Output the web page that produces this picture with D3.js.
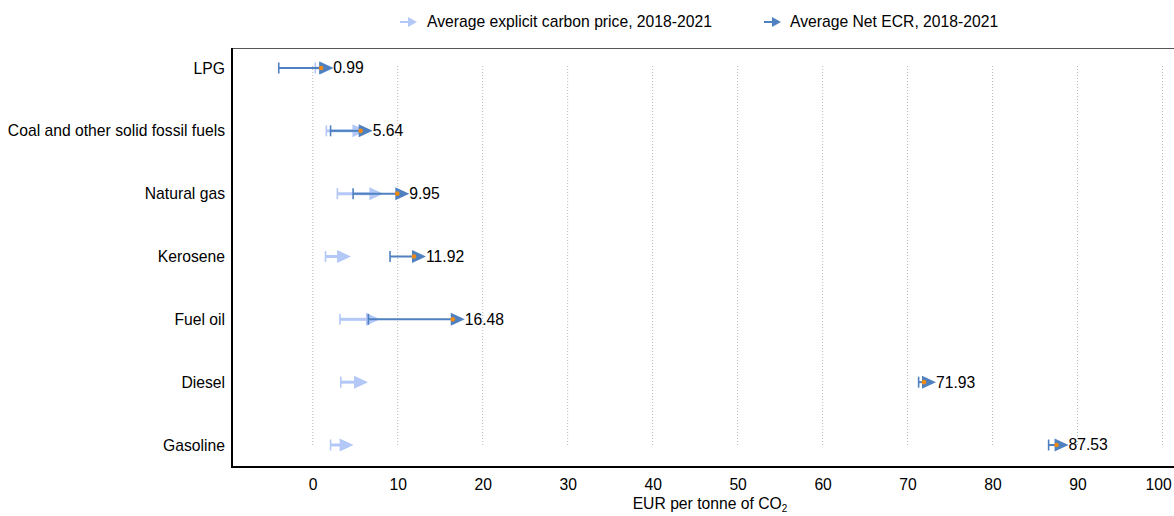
<!DOCTYPE html>
<html>
<head>
<meta charset="utf-8">
<script src="https://cdn.jsdelivr.net/npm/d3@7"></script>
<style>
  html, body { margin: 0; padding: 0; background: #fff; }
  svg { display: block; font-family: "Liberation Sans", Arial, sans-serif; }
</style>
</head>
<body>
<svg id="chart" width="1174" height="516"></svg>
<script>
// Fuel categories, top to bottom
const categories = ["LPG", "Coal and other solid fossil fuels", "Natural gas", "Kerosene", "Fuel oil", "Diesel", "Gasoline"];
// Explicit carbon price: start and end of the arrow (EUR per tonne of CO2)
const explicitStart = [0.3, 1.6, 2.9, 1.5, 3.2, 3.3, 2.1];
const explicitEnd   = [1.1, 4.9, 6.9, 3.1, 6.5, 5.1, 3.4];
// Net effective carbon rate: start and end of the arrow
const netStart = [-4.0, 2.1, 4.75, 9.1, 6.55, 71.3, 86.6];
const netEnd   = [0.99, 5.64, 9.95, 11.92, 16.48, 71.93, 87.53];
// Axis ticks
const xTicks = [0, 10, 20, 30, 40, 50, 60, 70, 80, 90, 100];
const legendLabels = ["Average explicit carbon price, 2018-2021", "Average Net ECR, 2018-2021"];

const lightBlue = "#b4c8f8";
const darkBlue = "#4f81c0";
const orange = "#f08a12";
const fontSize = 15.7;

const svg = d3.select("#chart");

const plot = { left: 232, top: 48, bottom: 467, right: 1188 };
const x = d3.scaleLinear().domain([-9.5, 103]).range([plot.left, plot.right]);
const y = d3.scalePoint().domain(categories).range([68, 445]);

const rows = categories.map((c, i) => ({
  cat: c,
  e0: explicitStart[i], e1: explicitEnd[i],
  n0: netStart[i], n1: netEnd[i]
}));

// Dotted vertical gridlines
svg.append("g").selectAll("line").data(xTicks).join("line")
  .attr("x1", d => x(d)).attr("x2", d => x(d))
  .attr("y1", y(categories[0]) - 2).attr("y2", y(categories[categories.length - 1]) + 2)
  .attr("stroke", "#b8b8b8").attr("stroke-width", 1)
  .attr("stroke-dasharray", "1,2");

// Frame
svg.append("line").attr("x1", plot.left).attr("x2", 1174).attr("y1", plot.top + 0.5).attr("y2", plot.top + 0.5)
  .attr("stroke", "#555").attr("stroke-width", 1);
svg.append("line").attr("x1", plot.left).attr("x2", plot.left).attr("y1", plot.top).attr("y2", plot.bottom + 1)
  .attr("stroke", "#000").attr("stroke-width", 2);
svg.append("line").attr("x1", plot.left - 1).attr("x2", 1174).attr("y1", plot.bottom).attr("y2", plot.bottom)
  .attr("stroke", "#000").attr("stroke-width", 2);

// X axis labels
const xAxis = d3.axisBottom(x).tickValues(xTicks).tickSize(0).tickPadding(12).tickFormat(d3.format("d"));
const gx = svg.append("g").attr("transform", `translate(0,${plot.bottom})`).call(xAxis);
gx.select(".domain").remove();
gx.selectAll("text").attr("font-size", fontSize).attr("fill", "#000").style("font-family", null);
// keep the last tick label inside the page edge
gx.selectAll("text").each(function () {
  const b = this.getBBox();
  const tr = this.parentNode.transform.baseVal.consolidate();
  const tx = tr ? tr.matrix.e : 0;
  const over = tx + b.x + b.width - 1172;
  if (over > 0) d3.select(this).attr("x", -over);
});

// Y axis labels
const yAxis = d3.axisLeft(y).tickSize(0).tickPadding(7);
const gy = svg.append("g").attr("transform", `translate(${plot.left},0)`).call(yAxis);
gy.select(".domain").remove();
gy.selectAll("text").attr("font-size", fontSize).attr("fill", "#000").style("font-family", null);

// Axis title
const title = svg.append("text")
  .attr("x", (x(-9.5) + x(103)) / 2).attr("y", 509)
  .attr("text-anchor", "middle").attr("font-size", fontSize).attr("fill", "#000");
title.append("tspan").text("EUR per tonne of CO");
title.append("tspan").text("2").attr("font-size", 10).attr("dy", 3);

// Arrow drawing helper: line from start to end, start tick, triangle head past the end
function drawArrows(g, get0, get1, color, width) {
  const grp = g.append("g");
  grp.selectAll("line.shaft").data(rows).join("line").attr("class", "shaft")
    .attr("x1", d => x(get0(d))).attr("x2", d => x(get1(d)))
    .attr("y1", d => y(d.cat)).attr("y2", d => y(d.cat))
    .attr("stroke", color).attr("stroke-width", width);
  grp.selectAll("line.tick").data(rows).join("line").attr("class", "tick")
    .attr("x1", d => x(get0(d))).attr("x2", d => x(get0(d)))
    .attr("y1", d => y(d.cat) - 5.5).attr("y2", d => y(d.cat) + 5.5)
    .attr("stroke", color).attr("stroke-width", 1.6);
  grp.selectAll("path.head").data(rows).join("path").attr("class", "head")
    .attr("d", d => {
      const xe = x(get1(d)) - 2, yc = y(d.cat);
      return `M${xe},${yc - 6.5}L${xe + 14},${yc}L${xe},${yc + 6.5}Z`;
    })
    .attr("fill", color);
}

const marks = svg.append("g");
drawArrows(marks, d => d.e0, d => d.e1, lightBlue, 3);
drawArrows(marks, d => d.n0, d => d.n1, darkBlue, 2);

// Net ECR value dots and labels
marks.selectAll("circle").data(rows).join("circle")
  .attr("cx", d => x(d.n1)).attr("cy", d => y(d.cat)).attr("r", 2.3)
  .attr("fill", orange);
marks.selectAll("text.val").data(rows).join("text").attr("class", "val")
  .attr("x", d => x(d.n1) + 12).attr("y", d => y(d.cat)).attr("dy", "0.35em")
  .attr("font-size", fontSize).attr("fill", "#000")
  .text(d => d3.format(".2f")(d.n1));

// Legend
const legend = svg.append("g");
const legendItems = [
  { label: legendLabels[0], color: lightBlue, x: 400, tx: 427 },
  { label: legendLabels[1], color: darkBlue, x: 764, tx: 790 }
];
legendItems.forEach(it => {
  const ly = 22;
  legend.append("line").attr("x1", it.x).attr("x2", it.x + 9).attr("y1", ly).attr("y2", ly)
    .attr("stroke", it.color).attr("stroke-width", 2);
  legend.append("path").attr("d", `M${it.x + 8},${ly - 5}L${it.x + 17},${ly}L${it.x + 8},${ly + 5}Z`)
    .attr("fill", it.color);
  legend.append("text").attr("x", it.tx).attr("y", ly).attr("dy", "0.35em")
    .attr("font-size", fontSize).attr("fill", "#000").text(it.label);
});
</script>
</body>
</html>
